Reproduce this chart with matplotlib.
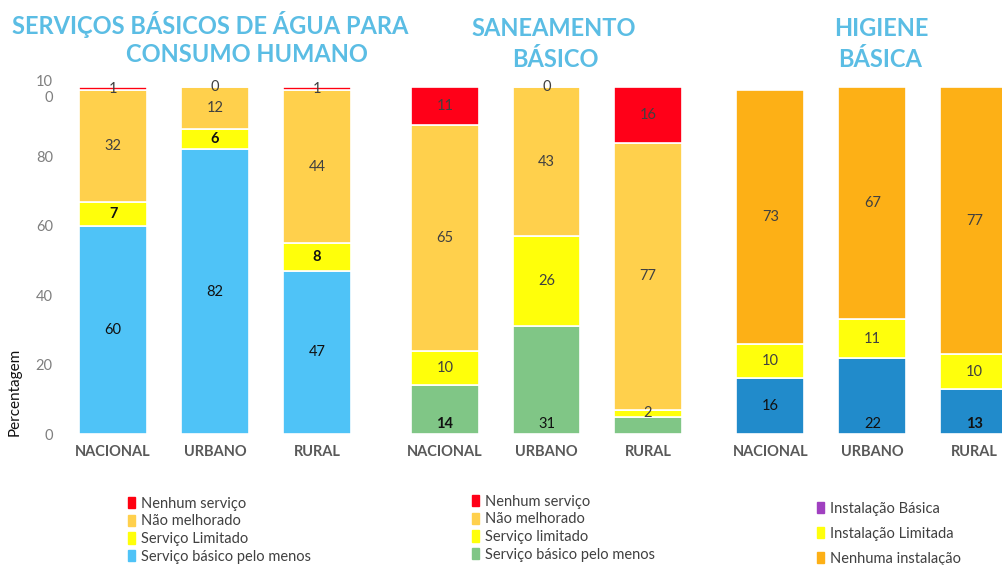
import numpy as np
import matplotlib.pyplot as plt
from matplotlib.patches import Patch

plt.rcParams['font.family'] = ['Lato', 'DejaVu Sans']

categorias = ["NACIONAL", "URBANO", "RURAL"]

# agua para consumo humano
agua_basico = [60, 82, 47]
agua_limitado = [7, 6, 8]
agua_nao_melhorado = [32, 12, 44]
agua_nenhum = [1, 0, 1]

# saneamento
san_basico = [14, 31, 5]
san_limitado = [10, 26, 2]
san_nao_melhorado = [65, 43, 77]
san_nenhum = [11, 0, 16]

# higiene
hig_basica = [16, 22, 13]
hig_limitada = [10, 11, 10]
hig_nenhuma = [73, 67, 77]

W, H = 1002, 565
fig = plt.figure(figsize=(W / 100, H / 100), dpi=100)

AZUL_T = "#5bbde4"
CINZA = "#404040"


def px_axes(left, right, top=87, bottom=434):
    return fig.add_axes([left / W, 1 - bottom / H, (right - left) / W, (bottom - top) / H])


def stack(ax, series, x_right=2.6):
    x = np.arange(len(categorias))
    bottom = np.zeros(len(categorias))
    for vals, col, tcol, bold_idx, base_idx, hide_idx in series:
        bars = ax.bar(x, vals, 0.667, bottom=bottom, color=col,
                      edgecolor="white", linewidth=1.2)
        for i, r in enumerate(bars):
            if i in hide_idx:
                continue
            if i in base_idx:
                y, va = r.get_y() + 1.0, "bottom"
            else:
                y, va = r.get_y() + r.get_height() / 2, "center"
            ax.text(r.get_x() + r.get_width() / 2, y, str(vals[i]),
                    ha="center", va=va, fontsize=10.5, color=tcol,
                    fontweight="bold" if i in bold_idx else "normal")
        bottom += np.array(vals)
    ax.set_xlim(-0.62, x_right)
    ax.set_ylim(0, 100)
    ax.set_xticks(x)
    ax.set_xticklabels(categorias, fontsize=10.5, fontweight="bold", color="#595959")
    ax.tick_params(axis="x", length=0, pad=8)
    for s in ax.spines.values():
        s.set_visible(False)


# painel 1 - agua
ax1 = px_axes(50, 378)
stack(ax1, [
    (agua_basico, "#4fc3f7", "#111111", [], [], []),
    (agua_limitado, "#ffff0a", "#111111", [0, 1, 2], [], []),
    (agua_nao_melhorado, "#ffd04c", CINZA, [], [], []),
    (agua_nenhum, "#ff0010", CINZA, [], [], []),
])
ax1.set_yticks([0, 20, 40, 60, 80, 100])
ax1.set_yticklabels(["0", "20", "40", "60", "80", "10\n0"], fontsize=10.5, color="#7f7f7f")
ax1.tick_params(axis="y", length=0, pad=-2)
ax1.set_ylabel("Percentagem", fontsize=11, color="#111111")
ax1.yaxis.set_label_coords(-0.085, 0.12)

# painel 2 - saneamento
ax2 = px_axes(382, 709)
stack(ax2, [
    (san_basico, "#80c686", "#111111", [0], [0, 1], [2]),
    (san_limitado, "#ffff0a", CINZA, [], [], []),
    (san_nao_melhorado, "#ffd04c", CINZA, [], [], []),
    (san_nenhum, "#ff0018", CINZA, [], [], []),
])
ax2.set_yticks([])

# painel 3 - higiene
ax3 = px_axes(707, 1002)
stack(ax3, [
    (hig_basica, "#218bcb", "#111111", [2], [1, 2], []),
    (hig_limitada, "#ffff0c", CINZA, [], [], []),
    (hig_nenhuma, "#fdb016", CINZA, [], [], []),
], x_right=2.27)
ax3.set_yticks([])

# titulos
tkw = dict(fontsize=17, fontweight="bold", color=AZUL_T, ha="center", va="center")
fig.text(210 / W, 1 - 25 / H, "SERVIÇOS BÁSICOS DE ÁGUA PARA", **tkw)
fig.text(247 / W, 1 - 55 / H, "CONSUMO HUMANO", **tkw)
fig.text(554 / W, 1 - 28 / H, "SANEAMENTO", **tkw)
fig.text(555 / W, 1 - 60 / H, "BÁSICO", **tkw)
fig.text(881 / W, 1 - 28 / H, "HIGIENE", **tkw)
fig.text(880 / W, 1 - 60 / H, "BÁSICA", **tkw)

# legendas
lkw = dict(frameon=False, fontsize=10.5, handlelength=0.5, handleheight=0.8,
           handletextpad=0.4, borderaxespad=0, loc="upper left")
leg1 = fig.legend(handles=[Patch(color="#ff0010", label="Nenhum serviço"),
                           Patch(color="#ffd04c", label="Não melhorado"),
                           Patch(color="#ffff0a", label="Serviço Limitado"),
                           Patch(color="#4fc3f7", label="Serviço básico pelo menos")],
                  bbox_to_anchor=(122 / W, 1 - 491 / H), labelspacing=0.25, **lkw)
leg2 = fig.legend(handles=[Patch(color="#ff0018", label="Nenhum serviço"),
                           Patch(color="#ffd04c", label="Não melhorado"),
                           Patch(color="#ffff0a", label="Serviço limitado"),
                           Patch(color="#80c686", label="Serviço básico pelo menos")],
                  bbox_to_anchor=(466 / W, 1 - 489 / H), labelspacing=0.25, **lkw)
leg3 = fig.legend(handles=[Patch(color="#a040c0", label="Instalação Básica"),
                           Patch(color="#ffff0c", label="Instalação Limitada"),
                           Patch(color="#fdb016", label="Nenhuma instalação")],
                  bbox_to_anchor=(811 / W, 1 - 496 / H), labelspacing=0.75, **lkw)
for lg in (leg1, leg2, leg3):
    for t in lg.get_texts():
        t.set_color(CINZA)

fig.savefig("out.png", dpi=100)
